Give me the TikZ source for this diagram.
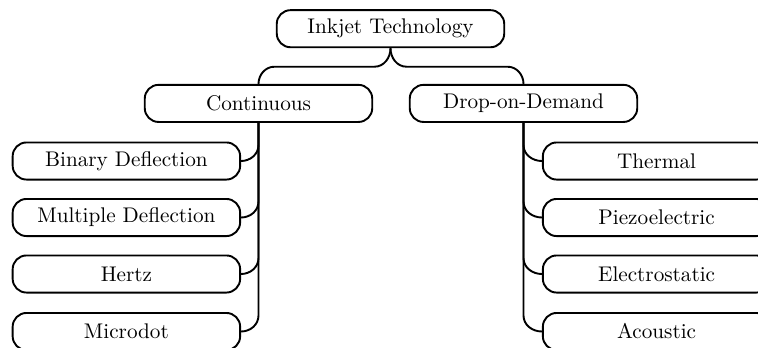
\documentclass[tikz,border=0pt]{standalone}
\usetikzlibrary{calc}
\begin{document}
\begin{tikzpicture}[x=0.4717pt,y=-0.4717pt,
  box/.style={draw, line width=0.9pt, rounded corners=6.5pt,
    minimum width=107.3pt, minimum height=17.5pt, inner sep=0pt},
  link/.style={draw, line width=0.9pt}]
\useasboundingbox (0,0) rectangle (758,347);

% top level
\node[box] (root) at (390.5,28.7) {Inkjet Technology};
\node[box] (cont) at (258.5,103.4) {Continuous};
\node[box] (dod)  at (523.5,103.4) {Drop-on-Demand};

% continuous family
\node[box] (bin) at (126.4,161)   {Binary Deflection};
\node[box] (mul) at (126.4,217.5) {Multiple Deflection};
\node[box] (her) at (126.4,274)   {Hertz};
\node[box] (mic) at (126.4,331.5) {Microdot};

% drop-on-demand family
\node[box] (the) at (656.6,161)   {Thermal};
\node[box] (pie) at (656.6,217.5) {Piezoelectric};
\node[box] (ele) at (656.6,274)   {Electrostatic};
\node[box] (aco) at (656.6,331.5) {Acoustic};

% brace-like fork under the root
\path (root.south) ++(0,18.5) coordinate (fork);
\draw[link] (root.south) to[out=-90,in=0] ($(fork)+(-16,0)$)
  -- ($(fork -| cont.north)+(16,0)$) to[out=180,in=90] (cont.north);
\draw[link] (root.south) to[out=-90,in=180] ($(fork)+(16,0)$)
  -- ($(fork -| dod.north)+(-16,0)$) to[out=0,in=90] (dod.north);

% trunks with curved branches
\foreach \c in {bin,mul,her,mic}
  \draw[link] (cont.south) -- ($(cont.south |- \c.east)+(0,-16)$)
    to[out=-90,in=0] (\c.east);
\foreach \c in {the,pie,ele,aco}
  \draw[link] (dod.south) -- ($(dod.south |- \c.west)+(0,-16)$)
    to[out=-90,in=180] (\c.west);
\end{tikzpicture}
\end{document}
